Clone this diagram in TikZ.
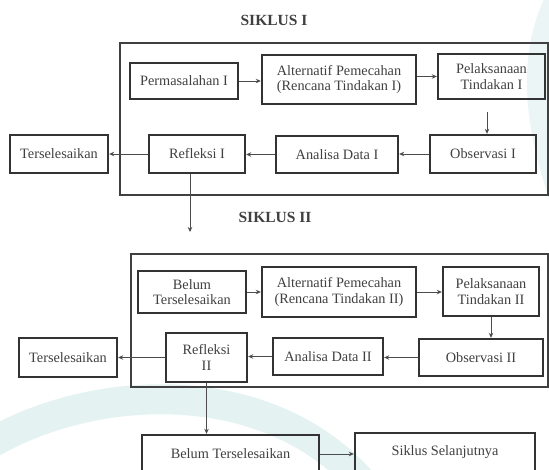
\documentclass[tikz,border=0pt]{standalone}
\usepackage{fontspec}
\setmainfont{Liberation Serif}
\usetikzlibrary{arrows.meta}

\begin{document}
\begin{tikzpicture}[x=1pt, y=-1pt,
  every node/.style={font=\fontsize{14.3}{15.5}\selectfont, text=black!75},
  box/.style={draw=black!80, line width=2.4pt, align=center, inner sep=0pt},
  frame/.style={draw=black!75, line width=2pt},
  arr/.style={-{Stealth[length=5pt,width=4.5pt]}, black!70, line width=0.8pt}]
% Page
\clip (0,0) rectangle (549,469);
\fill[white] (0,0) rectangle (549,469);
% Faint watermark
\draw[line width=30pt, teal!10] (-20,450) .. controls (80,385) and (260,370) .. (360,480);
\draw[line width=20pt, teal!8] (560,-10) .. controls (520,60) and (540,140) .. (560,200);
% Cycle I
\node[font=\bfseries\fontsize{15.5}{17}\selectfont] (siklus1) at (274,20) {SIKLUS I};
\draw[frame] (120,43) rectangle (548,195);
\node[box, minimum width=108, minimum height=36] (perm1) at (184,81) {Permasalahan I};
\node[box, minimum width=154, minimum height=49] (alt1) at (339,79.5) {Alternatif Pemecahan\\(Rencana Tindakan I)};
\node[box, minimum width=107, minimum height=45] (pel1) at (491.5,76.5) {Pelaksanaan\\Tindakan I};
\node[box, minimum width=106, minimum height=38] (obs1) at (483,154) {Observasi I};
\node[box, minimum width=122, minimum height=37] (ana1) at (337,154.5) {Analisa Data I};
\node[box, minimum width=96, minimum height=38] (refl1) at (197,154) {Refleksi I};
\node[box, minimum width=98, minimum height=38] (sel1) at (59,154) {Terselesaikan};
% Arrows of cycle I
\draw[arr] (perm1.east) -- (perm1.east -| alt1.west);
\draw[arr] (alt1.east |- pel1.west) -- (pel1.west);
\coordinate (p1) at (487,112);
\draw[arr] (p1) -- (p1 |- obs1.north);
\draw[arr] (obs1.west) -- (obs1.west -| ana1.east);
\draw[arr] (ana1.west) -- (ana1.west -| refl1.east);
\draw[arr] (refl1.west) -- (sel1.east);
\coordinate (down1) at (190,232);
\draw[arr] (refl1.south -| down1) -- (down1);
% Cycle II
\node[font=\bfseries\fontsize{15.5}{17}\selectfont] (siklus2) at (275,217) {SIKLUS II};
\draw[frame] (131,254) rectangle (548,387);
\node[box, minimum width=108, minimum height=42] (blm2) at (192,292) {Belum\\Terselesaikan};
\node[box, minimum width=154, minimum height=50] (alt2) at (339,292) {Alternatif Pemecahan\\(Rencana Tindakan II)};
\node[box, minimum width=96, minimum height=49] (pel2) at (491,291.5) {Pelaksanaan\\Tindakan II};
\node[box, minimum width=124, minimum height=37] (obs2) at (481,357.5) {Observasi II};
\node[box, minimum width=110, minimum height=37] (ana2) at (328,356.5) {Analisa Data II};
\node[box, minimum width=81, minimum height=49] (refl2) at (206.5,357.5) {Refleksi\\II};
\node[box, minimum width=98, minimum height=39] (sel2) at (68,357.5) {Terselesaikan};
\node[box, minimum width=177, minimum height=38] (blm3) at (230.5,454) {Belum Terselesaikan};
\node[box, minimum width=180, minimum height=38] (lanjut) at (445,452) {Siklus Selanjutnya};
% Arrows of cycle II
\draw[arr] (blm2.east) -- (blm2.east -| alt2.west);
\draw[arr] (alt2.east) -- (alt2.east -| pel2.west);
\draw[arr] (pel2.south) -- (pel2.south |- obs2.north);
\draw[arr] (obs2.west) -- (obs2.west -| ana2.east);
\draw[arr] (ana2.west) -- (ana2.west -| refl2.east);
\draw[arr] (refl2.west) -- (refl2.west -| sel2.east);
\draw[arr] (refl2.south) -- (refl2.south |- blm3.north);
\draw[arr] (blm3.east) -- (blm3.east -| lanjut.west);
\end{tikzpicture}
\end{document}
